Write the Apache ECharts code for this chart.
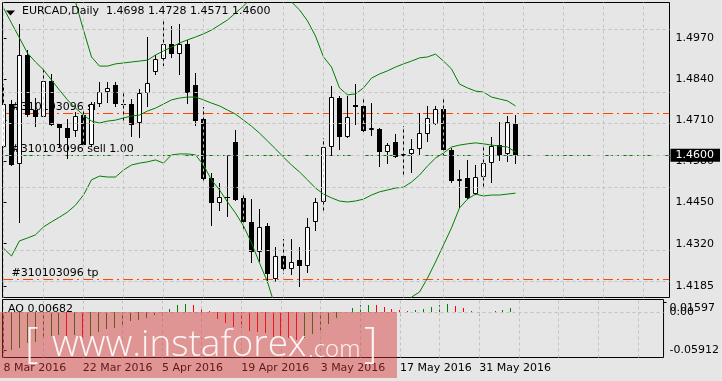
<!DOCTYPE html>
<html>
<head>
<meta charset="utf-8">
<script src="https://cdn.jsdelivr.net/npm/echarts@6/dist/echarts.min.js"></script>
<style>
html,body{margin:0;padding:0;background:#e6e6e6;}
#chart{width:722px;height:381px;}
</style>
</head>
<body>
<div id="chart"></div>
<script>
// ---------- data ----------
const dates = ['8 Mar 2016','9 Mar 2016','10 Mar 2016','11 Mar 2016','14 Mar 2016','15 Mar 2016','16 Mar 2016','17 Mar 2016','18 Mar 2016','21 Mar 2016',
'22 Mar 2016','23 Mar 2016','24 Mar 2016','25 Mar 2016','28 Mar 2016','29 Mar 2016','30 Mar 2016','31 Mar 2016','1 Apr 2016','4 Apr 2016',
'5 Apr 2016','6 Apr 2016','7 Apr 2016','8 Apr 2016','11 Apr 2016','12 Apr 2016','13 Apr 2016','14 Apr 2016','15 Apr 2016','18 Apr 2016',
'19 Apr 2016','20 Apr 2016','21 Apr 2016','22 Apr 2016','25 Apr 2016','26 Apr 2016','27 Apr 2016','28 Apr 2016','29 Apr 2016','2 May 2016',
'3 May 2016','4 May 2016','5 May 2016','6 May 2016','9 May 2016','10 May 2016','11 May 2016','12 May 2016','13 May 2016','16 May 2016',
'17 May 2016','18 May 2016','19 May 2016','20 May 2016','23 May 2016','24 May 2016','25 May 2016','26 May 2016','27 May 2016','30 May 2016',
'31 May 2016','1 Jun 2016','2 Jun 2016','3 Jun 2016','6 Jun 2016'];

const open  = [1.4627,1.4761,1.4571,1.4917,1.4743,1.4722,1.4835,1.4698,1.4685,1.4678,
1.4727,1.4632,1.4761,1.4801,1.4822,1.4761,1.4761,1.4701,1.4796,1.4862,
1.4904,1.4951,1.4919,1.4951,1.4822,1.4715,1.4527,1.4448,1.4469,1.4641,
1.4464,1.4390,1.4293,1.4376,1.4207,1.4282,1.4239,1.4268,1.4250,1.4390,
1.4451,1.4625,1.4780,1.4659,1.4759,1.4756,1.4680,1.4682,1.4611,1.4643,
1.4597,1.4604,1.4619,1.4666,1.4699,1.4745,1.4617,1.4519,1.4527,1.4476,
1.4532,1.4574,1.4632,1.4603,1.4698];
const high  = [1.4825,1.4775,1.5015,1.4933,1.4780,1.4878,1.4857,1.4700,1.4714,1.4738,
1.4743,1.4769,1.4833,1.4833,1.4833,1.4796,1.4778,1.4809,1.4973,1.4917,
1.5026,1.5009,1.5015,1.4965,1.4859,1.4752,1.4545,1.4513,1.4601,1.4680,
1.4480,1.4461,1.4429,1.4385,1.4309,1.4335,1.4335,1.4309,1.4400,1.4464,
1.4654,1.4819,1.4787,1.4787,1.4824,1.4777,1.4764,1.4685,1.4640,1.4667,
1.4693,1.4650,1.4733,1.4756,1.4756,1.4780,1.4622,1.4553,1.4585,1.4569,
1.4629,1.4659,1.4706,1.4725,1.4728];
const low   = [1.4623,1.4566,1.4386,1.4721,1.4690,1.4720,1.4693,1.4627,1.4587,1.4659,
1.4627,1.4627,1.4752,1.4764,1.4752,1.4703,1.4657,1.4654,1.4754,1.4854,
1.4882,1.4907,1.4854,1.4762,1.4693,1.4516,1.4377,1.4424,1.4405,1.4456,
1.4366,1.4260,1.4263,1.4195,1.4200,1.4224,1.4221,1.4182,1.4228,1.4361,
1.4421,1.4598,1.4617,1.4654,1.4696,1.4674,1.4661,1.4564,1.4571,1.4590,
1.4537,1.4545,1.4601,1.4643,1.4696,1.4601,1.4513,1.4432,1.4463,1.4474,
1.4497,1.4513,1.4583,1.4580,1.4571];
const close = [1.4761,1.4569,1.4917,1.4727,1.4722,1.4835,1.4696,1.4685,1.4654,1.4724,
1.4632,1.4761,1.4799,1.4812,1.4761,1.4760,1.4696,1.4796,1.4828,1.4904,
1.4951,1.4919,1.4951,1.4798,1.4709,1.4525,1.4448,1.4469,1.4468,1.4458,
1.4390,1.4293,1.4374,1.4224,1.4282,1.4239,1.4263,1.4250,1.4374,1.4451,
1.4625,1.4783,1.4657,1.4720,1.4752,1.4678,1.4685,1.4611,1.4632,1.4595,
1.4603,1.4619,1.4669,1.4717,1.4745,1.4617,1.4519,1.4526,1.4466,1.4532,
1.4574,1.4630,1.4601,1.4704,1.4600];

const bbUpper = [1.5825,1.5756,1.5613,1.5509,1.5442,1.5367,1.5287,1.5208,1.5129,1.5085,
1.4996,1.4911,1.4882,1.4882,1.4889,1.4892,1.4895,1.4898,1.4901,1.4917,
1.4930,1.4942,1.4955,1.4965,1.4974,1.4984,1.4996,1.5012,1.5028,1.5050,
1.5072,1.5098,1.5117,1.5129,1.5123,1.5104,1.5085,1.5060,1.5025,1.4977,
1.4911,1.4879,1.4813,1.4791,1.4794,1.4813,1.4844,1.4857,1.4867,1.4879,
1.4889,1.4898,1.4908,1.4911,1.4920,1.4898,1.4873,1.4825,1.4813,1.4803,
1.4800,1.4784,1.4778,1.4772,1.4756];
const bbMiddle = [1.5066,1.5018,1.4971,1.4923,1.4895,1.4870,1.4838,1.4806,1.4775,1.4749,
1.4727,1.4708,1.4702,1.4708,1.4711,1.4718,1.4724,1.4727,1.4740,1.4749,
1.4762,1.4775,1.4781,1.4784,1.4784,1.4775,1.4765,1.4756,1.4743,1.4730,
1.4711,1.4692,1.4670,1.4645,1.4620,1.4594,1.4569,1.4547,1.4522,1.4496,
1.4477,1.4465,1.4455,1.4452,1.4455,1.4461,1.4474,1.4484,1.4490,1.4496,
1.4499,1.4515,1.4537,1.4566,1.4591,1.4607,1.4626,1.4632,1.4636,1.4639,
1.4636,1.4632,1.4629,1.4626,1.4610];
const bbLower = [1.4306,1.4281,1.4329,1.4338,1.4348,1.4373,1.4389,1.4404,1.4420,1.4442,
1.4474,1.4522,1.4534,1.4531,1.4531,1.4553,1.4569,1.4575,1.4579,1.4585,
1.4575,1.4601,1.4604,1.4604,1.4601,1.4569,1.4522,1.4490,1.4452,1.4417,
1.4376,1.4322,1.4259,1.4199,1.4117,1.4085,1.4053,1.4034,1.4022,1.4018,
1.4044,1.4050,1.4098,1.4113,1.4117,1.4110,1.4104,1.4110,1.4113,1.4113,
1.4123,1.4151,1.4167,1.4211,1.4262,1.4316,1.4370,1.4433,1.4461,1.4477,
1.4471,1.4474,1.4474,1.4477,1.4480];

const ao = [-0.0644,-0.0591,-0.0555,-0.0486,-0.0470,-0.0418,-0.0366,-0.0355,-0.0366,-0.0355,
-0.0382,-0.0366,-0.0312,-0.0265,-0.0249,-0.0208,-0.0129,-0.0118,-0.0082,-0.0039,
0.0008,0.0055,0.0118,0.0134,0.0118,0.0066,0.0024,-0.0103,-0.0170,-0.0224,
-0.0249,-0.0287,-0.0300,-0.0328,-0.0382,-0.0390,-0.0397,-0.0434,-0.0407,-0.0344,
-0.0276,-0.0186,-0.0082,0.0003,0.0076,0.0118,0.0122,0.0116,0.0091,0.0055,
0.0039,0.0024,0.0039,0.0055,0.0087,0.0118,0.0134,0.0103,0.0066,0.0024,
0.0006,0.0003,0.0024,0.0039,0.00682];

const priceTicks = [1.4970,1.4840,1.4710,1.4580,1.4450,1.4320,1.4185];
const aoTicksLow = [0,-0.05912];
const aoTicksHigh = [0.01597];
const dateTickIdx = [0,10,20,30,40,50,60];
const gridIdx = [0,5,10,15,20,25,30,35,40,45,50,55,60,65,70,75,80];
const orderNames = ['#310103096 sl','#310103096 sell 1.00','#310103096 tp'];
const orderPrices = [1.4732,1.4600,1.4207];
const currentPrice = 1.4600;

// ---------- layout / style ----------
const F = 'DejaVu Sans';
const X_MIN = -0.125, X_MAX = 83.25;
const Y_MIN = 1.41497, Y_MAX = 1.50833;
const AO_MIN = -0.07098, AO_MAX = 0.0205;
const GREEN = '#008000', GRIDC = '#c2c2c2';
const orderColors = ['#ff4500', '#008000', '#ff4500'];
const DASH_LONG = 10, DASH_GAP = 4, DASH_DOT = 2;

const last = close.length - 1;
const headerText = 'EURCAD,Daily  ' + [open[last], high[last], low[last], close[last]].map(v => v.toFixed(4)).join(' ');
const aoText = 'AO ' + ao[last].toFixed(5);

const candleData = open.map((o, i) => [i, o, close[i], low[i], high[i]]);
const aoData = ao.map((v, i) => [i, v, i > 0 ? ao[i - 1] : v]);
const orderData = orderPrices.map((p, i) => [i, p]);

const chart = echarts.init(document.getElementById('chart'));

const priceBoxSeries = {
  type: 'line', xAxisIndex: 0, yAxisIndex: 0, data: [], z: 6,
  markLine: {
    silent: true, animation: false, symbol: ['none', 'none'],
    lineStyle: {color: 'rgba(0,0,0,0)', width: 1},
    label: {show: true, position: 'end', distance: 1, formatter: p => p.value.toFixed(4),
            color: '#fff', backgroundColor: '#000', padding: [1, 6, 1, 5],
            fontFamily: F, fontSize: 11},
    data: [{yAxis: currentPrice}]
  }
};

const aoAxisBase = {
  gridIndex: 1, type: 'value', position: 'right', min: AO_MIN, max: AO_MAX,
  axisLine: {show: false}, splitLine: {show: false}
};

const WM = 'rgba(255,255,255,0.9)';

const option = {
  animation: false,
  backgroundColor: '#e6e6e6',
  grid: [
    {left: 2.5, top: 2.5, width: 667, height: 295, show: true, borderColor: '#000', borderWidth: 1, backgroundColor: 'transparent'},
    {left: 2.5, top: 299.5, width: 667, height: 58, show: true, borderColor: '#000', borderWidth: 1, backgroundColor: 'transparent'}
  ],
  xAxis: [
    {gridIndex: 0, type: 'value', min: X_MIN, max: X_MAX, show: false},
    {gridIndex: 1, type: 'value', min: X_MIN, max: X_MAX,
     axisLine: {show: false}, splitLine: {show: false},
     axisTick: {show: true, customValues: dateTickIdx, length: 3, lineStyle: {color: '#000'}},
     axisLabel: {customValues: dateTickIdx, formatter: v => dates[v], align: 'left', margin: 5,
                 color: '#000', fontFamily: F, fontSize: 11}}
  ],
  yAxis: [
    {gridIndex: 0, type: 'value', position: 'right', min: Y_MIN, max: Y_MAX,
     axisLine: {show: false}, splitLine: {show: false},
     axisTick: {show: true, customValues: priceTicks, length: 3, lineStyle: {color: '#000'}},
     axisLabel: {customValues: priceTicks, formatter: v => v.toFixed(4), margin: 6,
                 color: '#000', fontFamily: F, fontSize: 11}},
    Object.assign({}, aoAxisBase, {
     axisTick: {show: true, customValues: aoTicksLow, length: 3, lineStyle: {color: '#000'}},
     axisLabel: {customValues: aoTicksLow, margin: 6, color: '#000', fontFamily: F, fontSize: 11,
                 formatter: v => v === 0 ? '0.00' : v.toFixed(5)}}),
    Object.assign({}, aoAxisBase, {
     axisTick: {show: true, customValues: aoTicksHigh, length: 3, lineStyle: {color: '#000'}},
     axisLabel: {customValues: aoTicksHigh, margin: 6, color: '#000', fontFamily: F, fontSize: 11,
                 verticalAlign: 'top', formatter: v => v.toFixed(5)}})
  ],
  series: [
    { // main grid lines
      type: 'line', xAxisIndex: 0, yAxisIndex: 0, data: [], z: 1,
      markLine: {silent: true, animation: false, symbol: ['none', 'none'],
        label: {show: false},
        lineStyle: {color: GRIDC, type: [3, 3], width: 1},
        data: gridIdx.map(i => ({xAxis: i})).concat(priceTicks.map(v => ({yAxis: v})))}
    },
    { // AO grid lines
      type: 'line', xAxisIndex: 1, yAxisIndex: 1, data: [], z: 1,
      markLine: {silent: true, animation: false, symbol: ['none', 'none'],
        label: {show: false},
        lineStyle: {color: GRIDC, type: [3, 3], width: 1},
        data: gridIdx.map(i => ({xAxis: i})).concat([{yAxis: 0}])}
    },
    { // order levels: dash-dot drawn as explicit filled segments (crisp, full colour) + caption
      type: 'custom', xAxisIndex: 0, yAxisIndex: 0, z: 2, clip: false, silent: true,
      encode: {x: 0, y: 1},
      data: orderData,
      renderItem: (params, api) => {
        const k = params.dataIndex, p = api.value(1);
        const a = api.coord([X_MIN, p]), b = api.coord([X_MAX, p]);
        const y = Math.floor(a[1]);
        const x0 = Math.ceil(a[0]), x1 = Math.floor(b[0]);
        const children = [];
        const period = DASH_LONG + DASH_GAP + DASH_DOT + DASH_GAP;
        for (let x = x0; x < x1; x += period) {
          children.push({type: 'rect', shape: {x: x, y: y, width: Math.min(DASH_LONG, x1 - x), height: 1},
                         style: {fill: orderColors[k]}});
          const xd = x + DASH_LONG + DASH_GAP;
          if (xd < x1) children.push({type: 'rect', shape: {x: xd, y: y, width: Math.min(DASH_DOT, x1 - xd), height: 1},
                                      style: {fill: orderColors[k]}});
        }
        children.push({type: 'text', x: a[0] + 9, y: y,
           style: {text: orderNames[k], fill: '#000', font: '11px "DejaVu Sans"', verticalAlign: 'bottom', align: 'left'}});
        return {type: 'group', children};
      }
    },
    { // candles
      type: 'custom', xAxisIndex: 0, yAxisIndex: 0, z: 3, clip: true,
      encode: {x: 0, y: [1, 2, 3, 4]},
      data: candleData,
      renderItem: (params, api) => {
        const i = api.value(0), o = api.value(1), c = api.value(2), l = api.value(3), h = api.value(4);
        const po = api.coord([i, o]), pc = api.coord([i, c]), pl = api.coord([i, l]), ph = api.coord([i, h]);
        const cx = Math.floor(po[0]) + 0.5;
        let top = Math.round(Math.min(po[1], pc[1])), bot = Math.round(Math.max(po[1], pc[1]));
        if (bot - top < 1) bot = top + 1;
        const children = [{type: 'line', shape: {x1: cx, y1: Math.round(ph[1]), x2: cx, y2: Math.round(pl[1])},
                           style: {stroke: '#000', lineWidth: 1}}];
        if (c >= o) {
          children.push({type: 'rect', shape: {x: cx - 2, y: top + 0.5, width: 4, height: Math.max(bot - top - 1, 0)},
                         style: {fill: '#fff', stroke: '#000', lineWidth: 1}});
        } else {
          children.push({type: 'rect', shape: {x: cx - 2.5, y: top, width: 5, height: bot - top},
                         style: {fill: '#000'}});
        }
        return {type: 'group', children};
      }
    },
    {type: 'line', xAxisIndex: 0, yAxisIndex: 0, z: 4, data: bbUpper.map((v, i) => [i, v]),
     showSymbol: false, silent: true, lineStyle: {color: GREEN, width: 1}},
    {type: 'line', xAxisIndex: 0, yAxisIndex: 0, z: 4, data: bbMiddle.map((v, i) => [i, v]),
     showSymbol: false, silent: true, lineStyle: {color: GREEN, width: 1}},
    {type: 'line', xAxisIndex: 0, yAxisIndex: 0, z: 4, data: bbLower.map((v, i) => [i, v]),
     showSymbol: false, silent: true, lineStyle: {color: GREEN, width: 1}},
    priceBoxSeries,
    { // AO histogram
      type: 'custom', xAxisIndex: 1, yAxisIndex: 1, z: 3, clip: true,
      encode: {x: 0, y: 1},
      data: aoData,
      renderItem: (params, api) => {
        const i = api.value(0), v = api.value(1), prev = api.value(2);
        const p0 = api.coord([i, 0]), p1 = api.coord([i, v]);
        const cx = Math.floor(p0[0]) + 0.5;
        return {type: 'line', shape: {x1: cx, y1: Math.round(p0[1]), x2: cx, y2: Math.round(p1[1])},
                style: {stroke: v >= prev ? GREEN : '#ff0000', lineWidth: 1}};
      }
    }
  ],
  graphic: {elements: [
    {type: 'polygon', z: 50, shape: {points: [[6, 10.5], [15, 10.5], [10.5, 15.5]]}, style: {fill: '#000'}},
    {type: 'text', z: 50, left: 22, top: 6, style: {text: headerText, font: '11px "DejaVu Sans"', fill: '#000'}},
    {type: 'text', z: 50, left: 8, top: 303.5, style: {text: aoText, font: '11px "DejaVu Sans"', fill: '#000'}},
    {type: 'rect', z: 100, shape: {x: 0, y: 312, width: 397, height: 66}, style: {fill: 'rgba(217,52,52,0.45)'}},
    {type: 'text', z: 101, style: {x: 25, y: 345, text: '[', font: '300 42px "Open Sans"', fill: WM, verticalAlign: 'middle'}},
    {type: 'text', z: 101, style: {x: 52, y: 345, text: 'www.instaforex', font: '300 37px "Open Sans"', fill: WM, verticalAlign: 'middle'}},
    {type: 'text', z: 101, style: {x: 308, y: 350, text: '.com', font: '300 24px "Open Sans"', fill: WM, verticalAlign: 'middle'}},
    {type: 'text', z: 101, style: {x: 364, y: 345, text: ']', font: '300 42px "Open Sans"', fill: WM, verticalAlign: 'middle'}}
  ]}
};
chart.setOption(option);
</script>
</body>
</html>
